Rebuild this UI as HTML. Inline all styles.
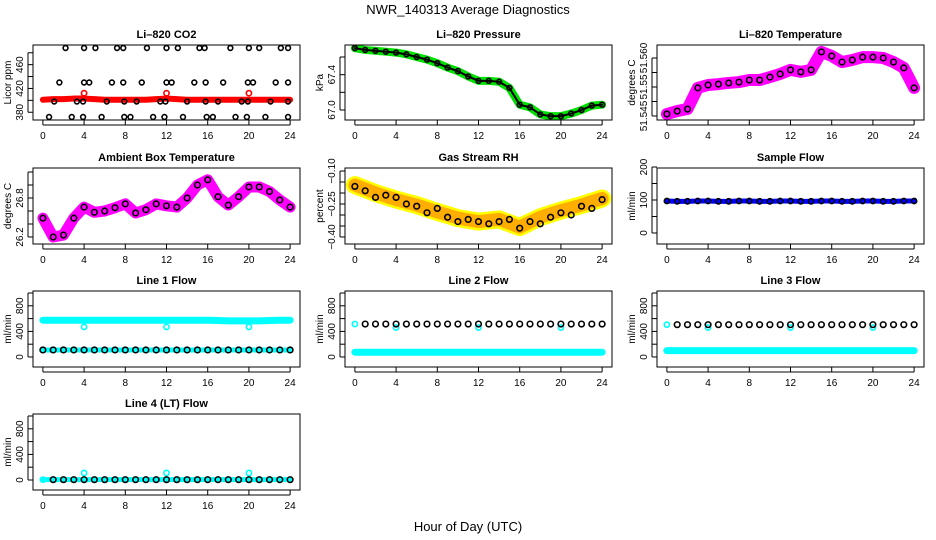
<!DOCTYPE html>
<html><head><meta charset="utf-8">
<style>
body{margin:0;background:#fff;}
svg{display:block;font-family:"Liberation Sans",sans-serif;}
.t{font-size:11px;font-weight:bold;text-anchor:middle;}
.tk{font-size:10px;text-anchor:middle;}
</style></head>
<body>
<svg id="chart" width="936" height="540" viewBox="0 0 936 540">
<text x="468" y="14" style="font-size:13px;text-anchor:middle">NWR_140313  Average Diagnostics</text>
<text x="468" y="531" style="font-size:13px;text-anchor:middle">Hour of Day (UTC)</text>
</svg>
<script>
const hours=[0,1,2,3,4,5,6,7,8,9,10,11,12,13,14,15,16,17,18,19,20,21,22,23,24];
const xTicks=[0,4,8,12,16,20,24];
// CO2
const co2BlackX=[2.2,4,5.1,7.2,7.8,10.1,12,13.1,15.2,15.7,18.2,20,21,23.1,23.8,1.6,4,4.5,6.7,7.8,9.6,12,12.5,14.7,15.8,17.5,19.9,20.4,22.6,23.8,1.1,3.3,3.9,6.2,7.9,9.1,11.4,11.9,14,15.8,17,19.3,19.9,22.1,23.8,0.6,2.8,3.9,5.7,7.9,8.5,10.7,11.8,13.6,15.9,16.5,18.7,19.8,21.6,23.8];
const co2BlackV=[488,488,488,488,488,488,488,488,488,488,488,488,488,488,488,430,430,430,430,430,430,430,430,430,430,430,430,430,430,430,398,398,398,398,398,398,398,398,398,398,398,398,398,398,398,372,372,372,372,372,372,372,372,372,372,372,372,372,372,372];
const co2RedV=[401,402,402,403,403,402,401,401,401,401,401,402,403,402,401,401,401,401,401,401,401,401,401,401,401];
const co2RedOutX=[4,12,20];
const co2RedOutV=[412,412,412];
// Pressure
const presV=[67.70,67.68,67.67,67.66,67.65,67.63,67.6,67.57,67.53,67.48,67.44,67.38,67.33,67.33,67.32,67.25,67.06,67.03,66.95,66.93,66.93,66.96,67.0,67.05,67.06];
// Li-820 temperature
const tempV=[51.5457,51.5467,51.5474,51.5547,51.5557,51.556,51.5564,51.5567,51.5574,51.5574,51.5584,51.5595,51.5609,51.5602,51.5609,51.5671,51.5657,51.5636,51.5643,51.5653,51.5653,51.565,51.5636,51.5616,51.5547];
// Ambient box temperature
const ambV=[26.49,26.2,26.23,26.49,26.66,26.58,26.6,26.65,26.71,26.57,26.62,26.71,26.68,26.66,26.8,27.0,27.08,26.82,26.69,26.82,26.97,26.97,26.9,26.77,26.66];
// Gas stream RH
const rhBandX=[0,2,4,6,8,10,12,14,16,18,20,22,24];
const rhBandV=[-0.164,-0.2,-0.23,-0.255,-0.286,-0.314,-0.33,-0.32,-0.355,-0.31,-0.28,-0.255,-0.225];
const rhBlackV=[-0.17,-0.19,-0.22,-0.21,-0.22,-0.25,-0.26,-0.29,-0.27,-0.31,-0.33,-0.32,-0.33,-0.34,-0.33,-0.32,-0.36,-0.33,-0.34,-0.31,-0.29,-0.30,-0.26,-0.27,-0.23];
// Sample flow
const sampleV=[97,96,96,97,97,96,96,97,97,96,96,97,97,96,96,97,97,96,96,97,97,96,96,97,97];
// Line flows
const line1CyanV=[575,575,575,575,575,575,575,575,575,575,575,575,575,575,575,575,575,570,565,565,565,565,570,575,575];
const line1BlackV=[110,110,110,110,110,110,110,110,110,110,110,110,110,110,110,110,110,110,110,110,110,110,110,110,110];
const line2BlackV=[515,515,515,515,515,515,515,515,515,515,515,515,515,515,515,515,515,515,515,515,515,515,515,515,515];
const line2CyanV=[75,75,75,75,75,75,75,75,75,75,75,75,75,75,75,75,75,75,75,75,75,75,75,75,75];
const line3BlackV=[505,505,505,505,505,505,505,505,505,505,505,505,505,505,505,505,505,505,505,505,505,505,505,505,505];
const line3CyanV=[100,100,100,100,100,100,100,100,100,100,100,100,100,100,100,100,100,100,100,100,100,100,100,100,100];
const line4BlackV=[5,5,5,5,5,5,5,5,5,5,5,5,5,5,5,5,5,5,5,5,5,5,5,5,5];
const outX=[4,12,20];
const line1OutV=[470,470,470];
const line23OutV=[460,460,460];
const line4OutV=[110,110,110];

const NS="http://www.w3.org/2000/svg";
const svg=document.getElementById('chart');
const colX=[[33,300],[345,612],[657,924]];
const rowY=[[45,120],[168,244],[291,367],[414,490]];
let clipId=0;
function el(tag,attrs,parent){const e=document.createElementNS(NS,tag);for(const k in attrs)e.setAttribute(k,attrs[k]);(parent||svg).appendChild(e);return e;}

function panel(c){
  const [x0,x1]=colX[c.col],[y0,y1]=rowY[c.row];
  const g=el('g',{});
  
  
  const xs=h=>x0+(h+0.96)/25.92*(x1-x0);
  const ys=v=>c.cal[1]+(v-c.cal[0])*(c.cal[3]-c.cal[1])/(c.cal[2]-c.cal[0]);
  const t=el('text',{x:(x0+x1)/2,y:y0-7,class:'t'},g);t.textContent=c.title;
  
  
  const cid='c'+(clipId++);
  const cp=el('clipPath',{id:cid},g);el('rect',{x:x0,y:y0,width:x1-x0,height:y1-y0},cp);
  const m=el('g',{'clip-path':'url(#'+cid+')'},g);
  
  
  c.draw({band:(X,V,col,w,op)=>{const p=el('polyline',{points:X.map((h,i)=>xs(h)+','+ys(V[i])).join(' '),fill:'none',stroke:col,'stroke-width':w,'stroke-linejoin':'round','stroke-linecap':'round',opacity:op||1},m);
      
      },
    pts:(X,V,col,r,sw)=>X.forEach((h,i)=>{const q=el('circle',{cx:xs(h),cy:ys(V[i]),r:r||2.6,fill:'none',stroke:col,'stroke-width':sw||1.6},m);
      
      })});
  el('rect',{x:x0,y:y0,width:x1-x0,height:y1-y0,fill:'none',stroke:'#000','stroke-width':1},g);
  xTicks.forEach(h=>{el('line',{x1:xs(h),x2:xs(h),y1:y1,y2:y1+5,stroke:'#000'},g);
    const tx=el('text',{x:xs(h),y:y1+19,class:'tk'},g);tx.textContent=h;
    
    });
  el('line',{x1:xs(0),x2:xs(24),y1:y1+5,y2:y1+5,stroke:'#000'},g);
  c.yt.forEach(v=>el('line',{x1:x0-5,x2:x0,y1:ys(v),y2:ys(v),stroke:'#000'},g));
  el('line',{x1:x0-5,x2:x0-5,y1:ys(c.yt[0]),y2:ys(c.yt[c.yt.length-1]),stroke:'#000'},g);
  c.yl.forEach((v,i)=>{const yy=ys(v);const tx=el('text',{x:x0-10,y:yy,class:'tk',transform:`rotate(-90 ${x0-10} ${yy})`},g);tx.textContent=c.ylt[i];
    
    });
  const yc=(y0+y1)/2;
  const yl=el('text',{x:x0-22,y:yc,class:'tk',transform:`rotate(-90 ${x0-22} ${yc})`},g);yl.textContent=c.ylab;
  
  
}

panel({name:'panel-co2',col:0,row:0,title:'Li\u2013820 CO2',ylab:'Licor ppm',cal:[372,117,488,48],yt:[380,400,420,440,460,480],yl:[380,420,460],ylt:['380','420','460'],
 draw:d=>{d.band(hours,co2RedV,'#f00',6);d.pts(co2RedOutX,co2RedOutV,'#f00');d.pts(co2BlackX,co2BlackV,'#000',2.4);}});
panel({name:'panel-pressure',col:1,row:0,title:'Li\u2013820 Pressure',ylab:'kPa',cal:[67.0,110,67.6,57],yt:[67.0,67.2,67.4,67.6],yl:[67.0,67.4],ylt:['67.0','67.4'],
 draw:d=>{d.band(hours,presV,'#00e000',8);d.band(hours,presV,'#000',2);d.pts(hours,presV,'#000',2.4);}});
panel({name:'panel-li820-temp',col:2,row:0,title:'Li\u2013820 Temperature',ylab:'degrees C',cal:[51.545,116,51.565,58],yt:[51.545,51.55,51.555,51.56,51.565],yl:[51.545,51.555,51.565],ylt:['51.545','51.55','51.560'],
 draw:d=>{d.band(hours,tempV,'#f0f',12);d.pts(hours,tempV,'#000',2.8);}});
panel({name:'panel-ambient-temp',col:0,row:1,title:'Ambient Box Temperature',ylab:'degrees C',cal:[26.2,237,26.8,198],yt:[26.2,26.4,26.6,26.8,27.0,27.2],yl:[26.2,26.8],ylt:['26.2','26.8'],
 draw:d=>{d.band(hours,ambV,'#f0f',11);d.pts(hours,ambV,'#000',2.8);}});
panel({name:'panel-gas-rh',col:1,row:1,title:'Gas Stream RH',ylab:'percent',cal:[-0.10,171,-0.40,237],yt:[-0.10,-0.15,-0.20,-0.25,-0.30,-0.35,-0.40],yl:[-0.10,-0.25,-0.40],ylt:['\u22120.10','\u22120.25','\u22120.40'],
 draw:d=>{d.band(rhBandX,rhBandV,'#ff0',18);d.band(rhBandX,rhBandV,'#f90',13,0.8);d.pts(hours,rhBlackV,'#000',2.8);}});
panel({name:'panel-sample-flow',col:2,row:1,title:'Sample Flow',ylab:'ml/min',cal:[0,233,200,167],yt:[0,50,100,150,200],yl:[0,100,200],ylt:['0','100','200'],
 draw:d=>{d.band(hours,sampleV,'#00f',5);d.pts(hours,sampleV,'#000',2.6);}});
const flowAxis={ylab:'ml/min',cal:[0,357,1000,293],yt:[0,200,400,600,800,1000],yl:[0,400,800],ylt:['0','400','800']};
panel(Object.assign({name:'panel-line1-flow',col:0,row:2,title:'Line 1 Flow',
 draw:d=>{d.band(hours,line1CyanV,'#0ff',7);d.band(hours,line1BlackV,'#0ff',5);d.pts(outX,line1OutV,'#0ff');d.pts(hours,line1BlackV,'#000',2.8);}},flowAxis));
panel(Object.assign({name:'panel-line2-flow',col:1,row:2,title:'Line 2 Flow',
 draw:d=>{d.band(hours,line2CyanV,'#0ff',7);d.pts([0],[line2BlackV[0]],'#0ff');d.pts(outX,line23OutV,'#0ff');d.pts(hours.slice(1),line2BlackV.slice(1),'#000',2.8);}},flowAxis));
panel(Object.assign({name:'panel-line3-flow',col:2,row:2,title:'Line 3 Flow',
 draw:d=>{d.band(hours,line3CyanV,'#0ff',7);d.pts([0],[line3BlackV[0]],'#0ff');d.pts(outX,line23OutV,'#0ff');d.pts(hours.slice(1),line3BlackV.slice(1),'#000',2.8);}},flowAxis));
panel(Object.assign({name:'panel-line4-flow',col:0,row:3,title:'Line 4 (LT) Flow',
 draw:d=>{d.band(hours,line4BlackV,'#0ff',5);d.pts([0],[line4BlackV[0]],'#0ff');d.pts(outX,line4OutV,'#0ff');d.pts(hours.slice(1),line4BlackV.slice(1),'#000',2.8);}},
 {ylab:'ml/min',cal:[0,480,1000,416],yt:[0,200,400,600,800,1000],yl:[0,400,800],ylt:['0','400','800']}));
</script>
</body></html>
